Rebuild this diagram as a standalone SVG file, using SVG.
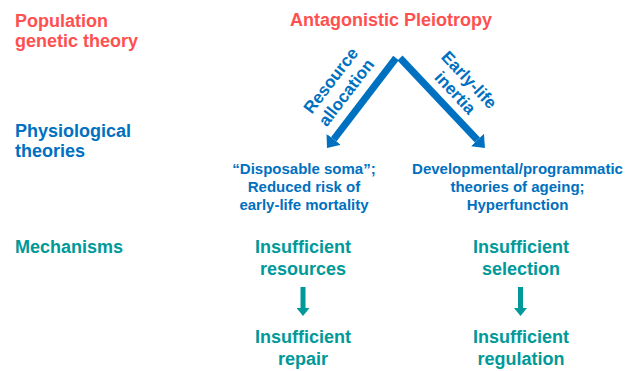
<svg xmlns="http://www.w3.org/2000/svg" width="632" height="371" viewBox="0 0 632 371">
  <style>
    text { font-family: "Liberation Sans", Arial, sans-serif; font-weight: bold; }
    .red { fill: #FF5050; font-size: 18px; }
    .blue { fill: #0070C0; }
    .teal { fill: #009999; }
    .head { font-size: 18px; }
    .phys { font-size: 15px; text-anchor: middle; }
    .rot { font-size: 17px; text-anchor: middle; fill: #0070C0; }
    .mech { font-size: 18px; text-anchor: middle; }
    .blueline { stroke: #0070C0; stroke-width: 7; fill: none; stroke-linecap: butt; }
    .tealline { stroke: #009999; stroke-width: 5; fill: none; }
  </style>
  <defs>
    <marker id="blueHead" markerUnits="userSpaceOnUse" markerWidth="12" markerHeight="18" refX="0" refY="9" orient="auto" viewBox="0 0 12 18">
      <path d="M0,0 L11,9 L0,18 z" fill="#0070C0"/>
    </marker>
    <marker id="tealHead" markerUnits="userSpaceOnUse" markerWidth="8" markerHeight="13" refX="0" refY="6.5" orient="auto" viewBox="0 0 8 13">
      <path d="M0,0 L8,6.5 L0,13 z" fill="#009999"/>
    </marker>
  </defs>

  <!-- row labels -->
  <g id="label-population">
    <text class="red" x="15" y="26.7">Population</text>
    <text class="red" x="15" y="46.7">genetic theory</text>
  </g>
  <g id="label-physiological">
    <text class="blue head" x="15" y="136.7">Physiological</text>
    <text class="blue head" x="15" y="156.7">theories</text>
  </g>
  <g id="label-mechanisms">
    <text class="teal head" x="15" y="253">Mechanisms</text>
  </g>

  <!-- top node -->
  <g id="node-ap">
    <text class="red" x="391" y="26" text-anchor="middle">Antagonistic Pleiotropy</text>
  </g>

  <!-- physiological theories -->
  <g id="node-soma">
    <text class="blue phys" x="304" y="174">“Disposable soma”;</text>
    <text class="blue phys" x="304" y="191.5">Reduced risk of</text>
    <text class="blue phys" x="304" y="209.5">early-life mortality</text>
  </g>
  <g id="node-developmental">
    <text class="blue phys" x="517.5" y="174">Developmental/programmatic</text>
    <text class="blue phys" x="517.5" y="191.5">theories of ageing;</text>
    <text class="blue phys" x="517.5" y="209.5">Hyperfunction</text>
  </g>

  <!-- mechanisms -->
  <g id="node-resources">
    <text class="teal mech" x="303" y="253">Insufficient</text>
    <text class="teal mech" x="303" y="275">resources</text>
  </g>
  <g id="node-repair">
    <text class="teal mech" x="303" y="343">Insufficient</text>
    <text class="teal mech" x="303" y="365">repair</text>
  </g>
  <g id="node-selection">
    <text class="teal mech" x="521" y="253">Insufficient</text>
    <text class="teal mech" x="521" y="275">selection</text>
  </g>
  <g id="node-regulation">
    <text class="teal mech" x="521" y="343">Insufficient</text>
    <text class="teal mech" x="521" y="365">regulation</text>
  </g>

  <!-- connectors -->
  <g id="connectors">
    <line class="blueline" x1="396" y1="58" x2="333.7" y2="139.3" marker-end="url(#blueHead)"/>
    <line class="blueline" x1="400" y1="58" x2="477.4" y2="140" marker-end="url(#blueHead)"/>
    <g transform="translate(338.5,86.5) rotate(-52.5)">
      <text class="rot" x="0" y="-4">Resource</text>
      <text class="rot" x="0" y="15.5">allocation</text>
    </g>
    <g transform="translate(462,86.5) rotate(46.7)">
      <text class="rot" x="0" y="-4">Early-life</text>
      <text class="rot" x="0" y="15">inertia</text>
    </g>
    <line class="tealline" x1="303" y1="287" x2="303" y2="308" marker-end="url(#tealHead)"/>
    <line class="tealline" x1="520.5" y1="287" x2="520.5" y2="308" marker-end="url(#tealHead)"/>
  </g>
</svg>
